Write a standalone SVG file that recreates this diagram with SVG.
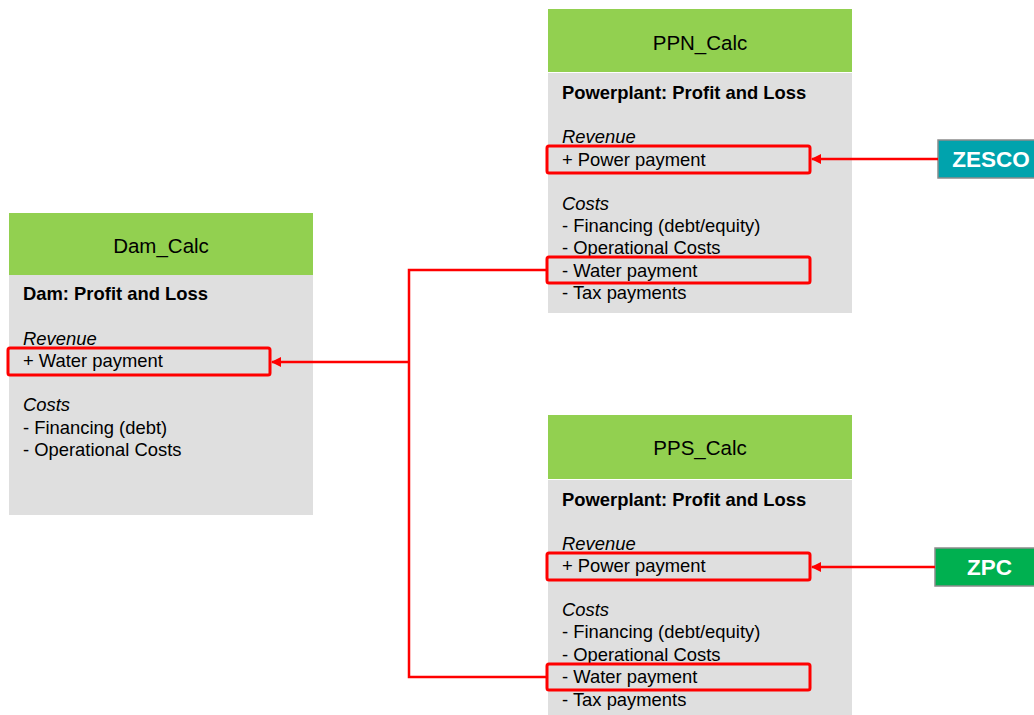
<svg xmlns="http://www.w3.org/2000/svg" width="1034" height="715" viewBox="0 0 1034 715">
<style>
text{font-family:"Liberation Sans",Arial,sans-serif;font-size:18.4px;fill:#000}
.hdr{fill:#92D050}
.body{fill:#DFDFDF}
.title{font-size:20.5px;text-anchor:middle}
.b{font-weight:bold}
.i{font-style:italic}
.hl{fill:none;stroke:#FF0000;stroke-width:3;rx:2}
.ext{font-weight:bold;font-size:22.5px;fill:#fff;text-anchor:middle}
.conn{fill:none;stroke:#FF0000;stroke-width:2.5}
</style>
<defs>
<marker id="ah" viewBox="0 0 10 10" refX="9" refY="5" markerWidth="4" markerHeight="4" orient="auto" markerUnits="strokeWidth">
<path d="M0,0 L10,5 L0,10 z" fill="#FF0000"/>
</marker>
</defs>
<rect width="1034" height="715" fill="#fff"/>
<g id="dam">
<rect class="body" x="9" y="275" width="304" height="240"/>
<rect class="hdr" x="9" y="213" width="304" height="62"/>
<text class="title" x="161" y="253">Dam_Calc</text>
<text class="b" x="23" y="300">Dam: Profit and Loss</text>
<text class="i" x="23" y="345">Revenue</text>
<text x="23" y="367">+ Water payment</text>
<text class="i" x="23" y="411">Costs</text>
<text x="23" y="434">- Financing (debt)</text>
<text x="23" y="456">- Operational Costs</text>
<rect class="hl" x="8" y="348" width="262" height="27"/>
</g>
<g id="ppn">
<rect class="body" x="548" y="73" width="304" height="240"/>
<rect class="hdr" x="548" y="9" width="304" height="63"/>
<text class="title" x="700" y="50">PPN_Calc</text>
<text class="b" x="562" y="99">Powerplant: Profit and Loss</text>
<text class="i" x="562" y="143">Revenue</text>
<text x="562" y="166">+ Power payment</text>
<text class="i" x="562" y="210">Costs</text>
<text x="562" y="232">- Financing (debt/equity)</text>
<text x="562" y="254">- Operational Costs</text>
<text x="562" y="277">- Water payment</text>
<text x="562" y="299">- Tax payments</text>
<rect class="hl" x="547" y="146" width="263" height="27"/>
<rect class="hl" x="547" y="257" width="263" height="26"/>
</g>
<g id="pps">
<rect class="body" x="548" y="480" width="304" height="235"/>
<rect class="hdr" x="548" y="415" width="304" height="64"/>
<text class="title" x="700" y="455">PPS_Calc</text>
<text class="b" x="562" y="506">Powerplant: Profit and Loss</text>
<text class="i" x="562" y="550">Revenue</text>
<text x="562" y="572">+ Power payment</text>
<text class="i" x="562" y="616">Costs</text>
<text x="562" y="638">- Financing (debt/equity)</text>
<text x="562" y="661">- Operational Costs</text>
<text x="562" y="683">- Water payment</text>
<text x="562" y="706">- Tax payments</text>
<rect class="hl" x="547" y="553" width="263" height="27"/>
<rect class="hl" x="547" y="664" width="263" height="26"/>
</g>
<g id="zesco">
<rect x="938" y="140" width="98" height="38" fill="#00A3AD" stroke="#8C8C8C" stroke-width="1.5"/>
<text class="ext" x="991" y="167">ZESCO</text>
</g>
<g id="zpc">
<rect x="935" y="548" width="101" height="38" fill="#00B050" stroke="#8C8C8C" stroke-width="1.5"/>
<text class="ext" x="989.5" y="575">ZPC</text>
</g>
<g id="connectors">
<path class="conn" d="M547,270 H409 V677 H547"/>
<path class="conn" d="M409,362 H272" marker-end="url(#ah)"/>
<path class="conn" d="M938,159 H812" marker-end="url(#ah)"/>
<path class="conn" d="M935,567 H812" marker-end="url(#ah)"/>
</g>
</svg>
